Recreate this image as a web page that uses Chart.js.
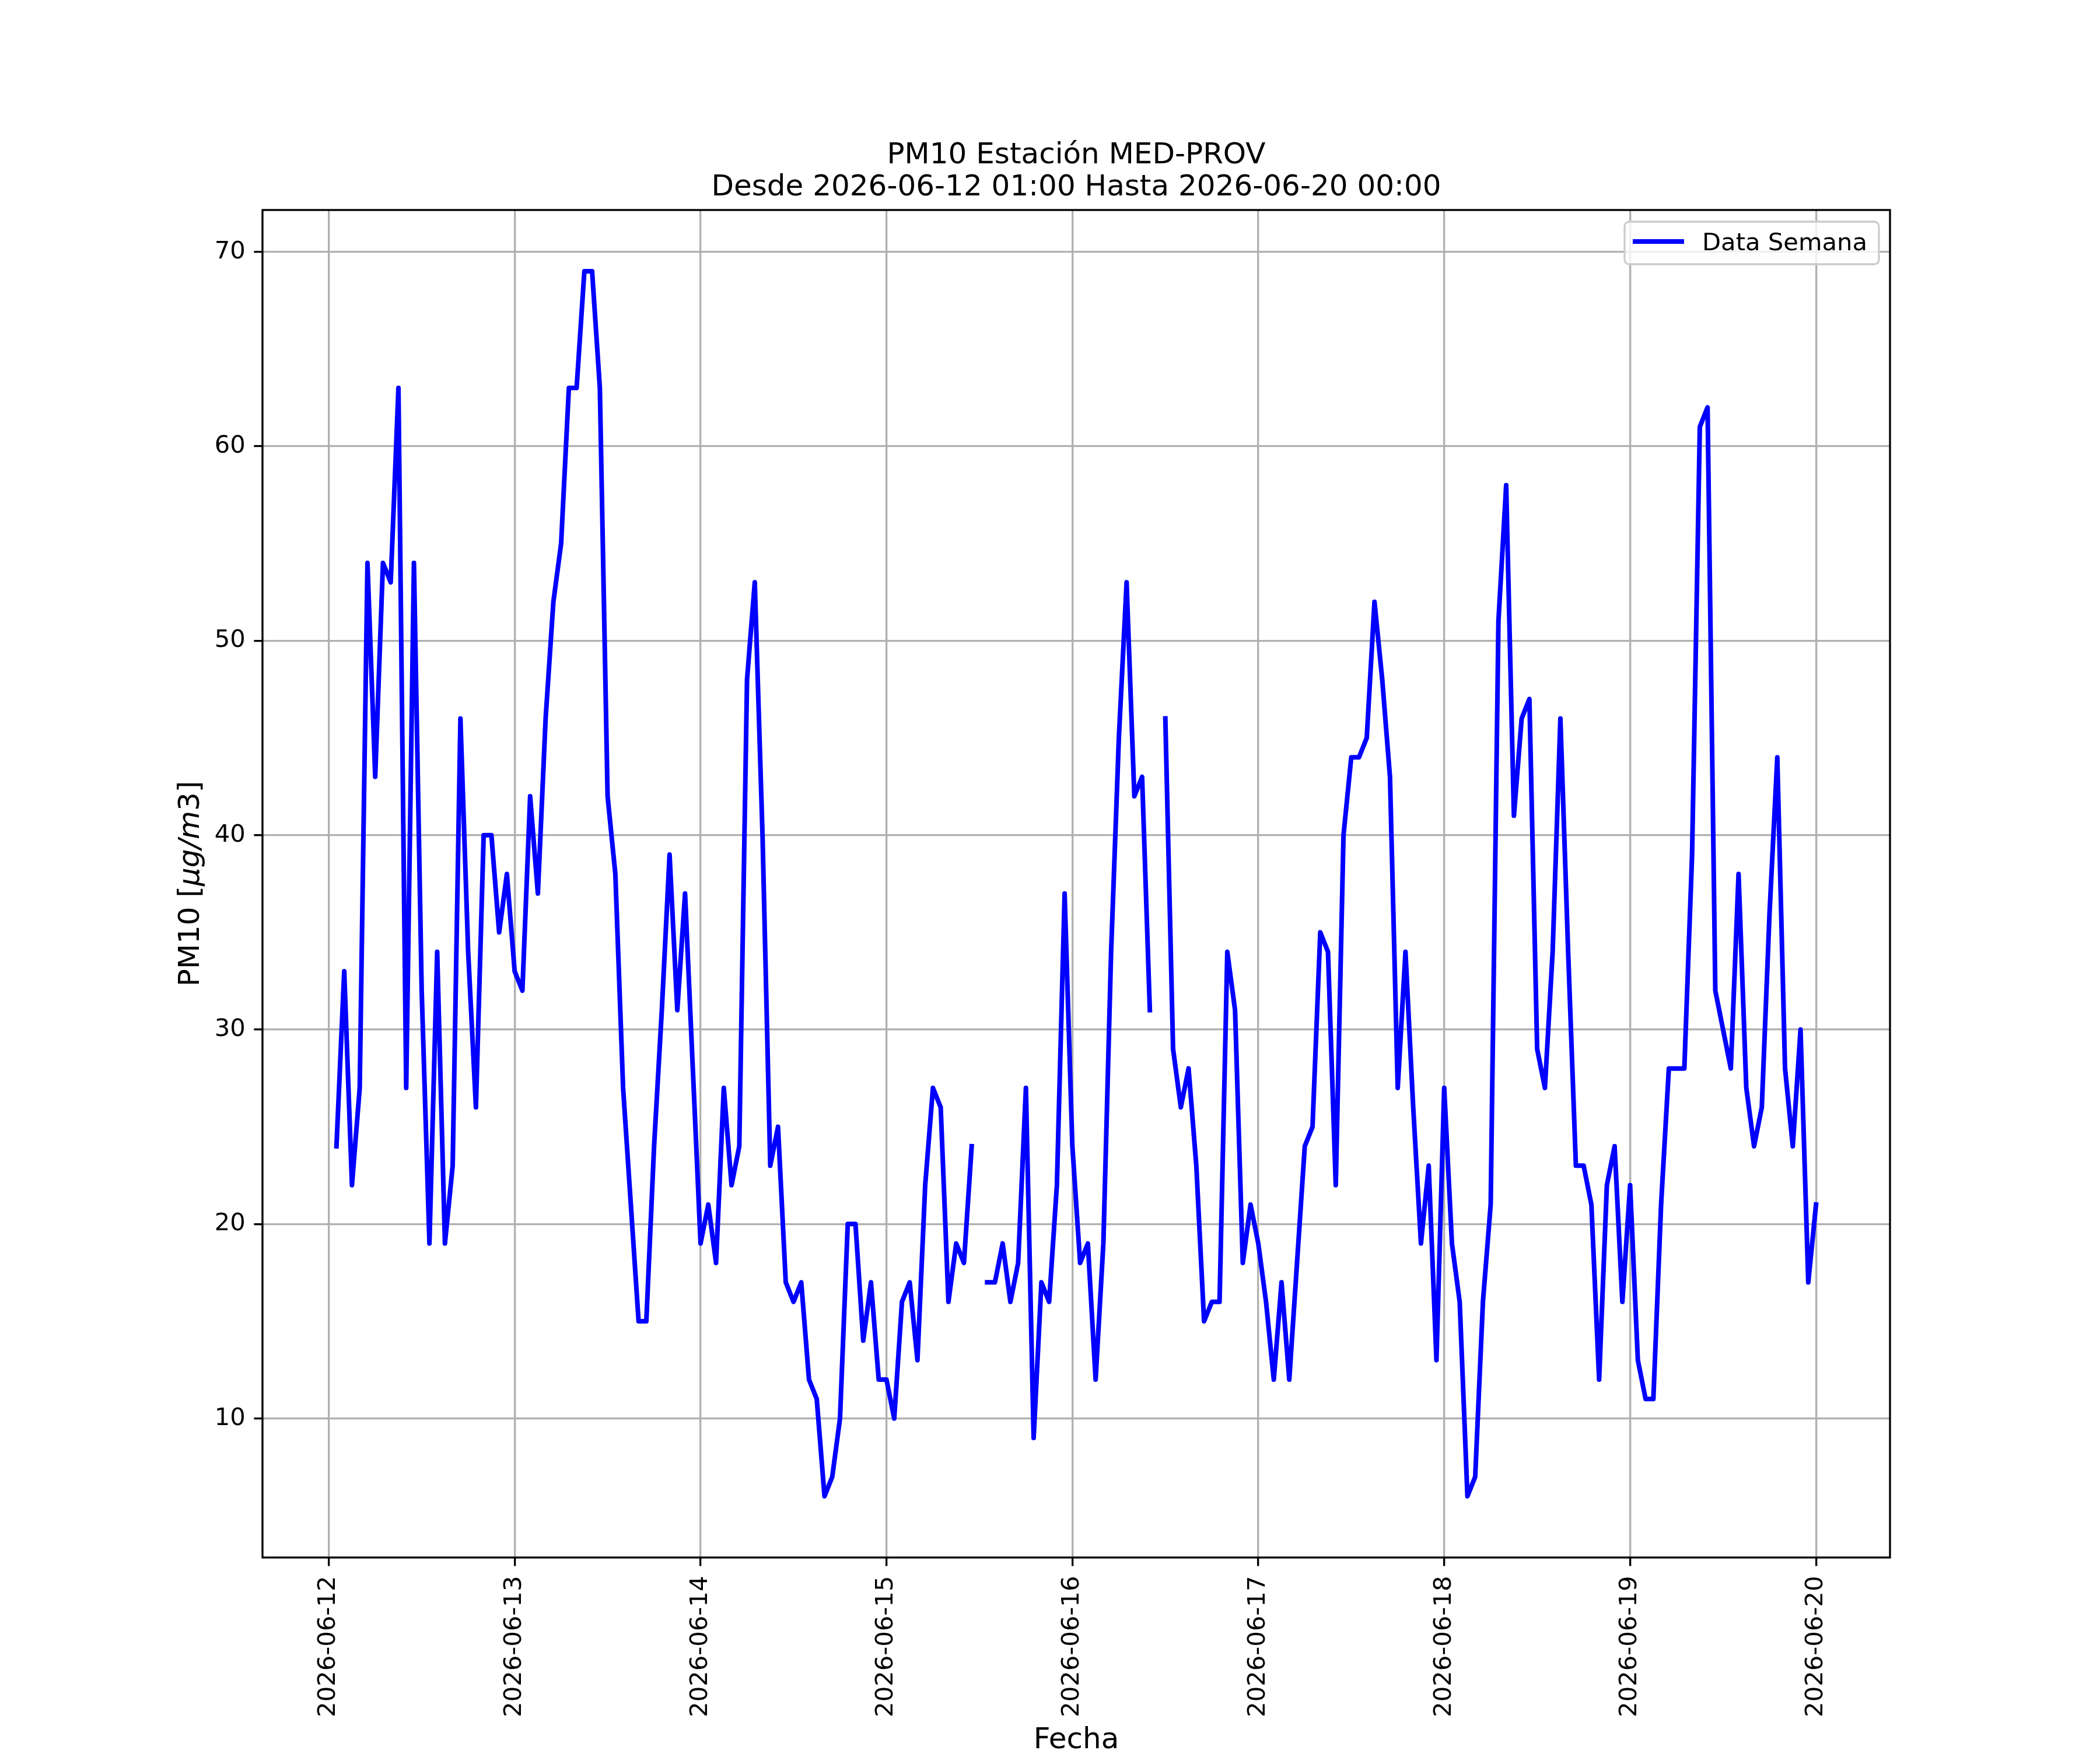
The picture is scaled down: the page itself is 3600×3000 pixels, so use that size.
<!DOCTYPE html>
<html>
<head>
<meta charset="utf-8">
<script src="https://cdn.jsdelivr.net/npm/chart.js@4.4.1/dist/chart.umd.min.js"></script>
<style>
  body { margin: 0; background: #fff; }
  canvas { display: block; }
</style>
</head>
<body>
<canvas id="myChart" width="3600" height="3000"></canvas>
<script>
// PM10 horario, cada lista va de 01:00 de ese dia a 00:00 del dia siguiente
var dia12 = [24, 33, 22, 27, 54, 43, 54, 53, 63, 27, 54, 32, 19, 34, 19, 23, 46, 34, 26, 40, 40, 35, 38, 33];
var dia13 = [32, 42, 37, 46, 52, 55, 63, 63, 69, 69, 63, 42, 38, 27, 21, 15, 15, 24, 31, 39, 31, 37, 28, 19];
var dia14 = [21, 18, 27, 22, 24, 48, 53, 40, 23, 25, 17, 16, 17, 12, 11, 6, 7, 10, 20, 20, 14, 17, 12, 12];
var dia15 = [10, 16, 17, 13, 22, 27, 26, 16, 19, 18, 24, null, 17, 17, 19, 16, 18, 27, 9, 17, 16, 22, 37, 24];
var dia16 = [18, 19, 12, 19, 34, 45, 53, 42, 43, 31, null, 46, 29, 26, 28, 23, 15, 16, 16, 34, 31, 18, 21, 19];
var dia17 = [16, 12, 17, 12, 18, 24, 25, 35, 34, 22, 40, 44, 44, 45, 52, 48, 43, 27, 34, 26, 19, 23, 13, 27];
var dia18 = [19, 16, 6, 7, 16, 21, 51, 58, 41, 46, 47, 29, 27, 34, 46, 34, 23, 23, 21, 12, 22, 24, 16, 22];
var dia19 = [13, 11, 11, 21, 28, 28, 28, 39, 61, 62, 32, 30, 28, 38, 27, 24, 26, 36, 44, 28, 24, 30, 17, 21];

var fechas = ['2026-06-12', '2026-06-13', '2026-06-14', '2026-06-15', '2026-06-16',
              '2026-06-17', '2026-06-18', '2026-06-19', '2026-06-20'];
var ticksY = [10, 20, 30, 40, 50, 60, 70];

var titulo = ['PM10 Estación MED-PROV', 'Desde 2026-06-12 01:00 Hasta 2026-06-20 00:00'];
var leyenda = 'Data Semana';

var semana = [].concat(dia12, dia13, dia14, dia15, dia16, dia17, dia18, dia19);
// x = horas desde 2026-06-12 00:00
var puntos = semana.map(function (v, i) { return {x: i + 1, y: v}; });

Chart.defaults.font.family = '"DejaVu Sans"';
Chart.defaults.color = '#000';

var decoracion = {
    id: 'decoracion',
    afterDatasetsDraw: function (chart) {
        var ctx = chart.ctx, a = chart.chartArea;
        ctx.save();
        // marco de los ejes
        ctx.strokeStyle = '#000';
        ctx.lineWidth = 3.33;
        ctx.strokeRect(a.left, a.top, a.right - a.left, a.bottom - a.top);

        // leyenda arriba a la derecha
        var w = 436, h = 73;
        var lx = a.right - 19 - w, ly = a.top + 20;
        ctx.beginPath();
        ctx.roundRect(lx, ly, w, h, 8);
        ctx.fillStyle = 'rgba(255,255,255,0.8)';
        ctx.fill();
        ctx.strokeStyle = '#cccccc';
        ctx.lineWidth = 3.33;
        ctx.stroke();
        ctx.beginPath();
        ctx.moveTo(lx + 14, ly + 34);
        ctx.lineTo(lx + 102, ly + 34);
        ctx.strokeStyle = '#0000ff';
        ctx.lineWidth = 8;
        ctx.stroke();
        ctx.fillStyle = '#000';
        ctx.font = '41.7px "DejaVu Sans"';
        ctx.textAlign = 'left';
        ctx.textBaseline = 'alphabetic';
        ctx.fillText(leyenda, lx + 133, ly + 49);
        ctx.restore();
    },
    afterDraw: function (chart) {
        var ctx = chart.ctx, a = chart.chartArea;
        ctx.save();
        ctx.fillStyle = '#000';
        ctx.textBaseline = 'alphabetic';
        ctx.textAlign = 'center';
        ctx.font = '50px "DejaVu Sans"';
        var cx = (a.left + a.right) / 2;
        ctx.fillText(titulo[0], cx, a.top - 80);
        ctx.fillText(titulo[1], cx, a.top - 25);

        // etiqueta eje y: PM10 [$\mu g/m3$]
        var partes = [
            ['PM10 [', '50px "DejaVu Sans"'],
            ['\u03bcg/m', 'italic 50px "DejaVu Sans"'],
            ['3', '50px "DejaVu Sans"'],
            [']', '50px "DejaVu Sans"']
        ];
        var total = 0;
        partes.forEach(function (p) { ctx.font = p[1]; total += ctx.measureText(p[0]).width; });
        ctx.translate(341, (a.top + a.bottom) / 2);
        ctx.rotate(-Math.PI / 2);
        ctx.textAlign = 'left';
        var px = -total / 2;
        partes.forEach(function (p) {
            ctx.font = p[1];
            ctx.fillText(p[0], px, 0);
            px += ctx.measureText(p[0]).width;
        });
        ctx.restore();
    }
};

var ctx = document.getElementById('myChart');
new Chart(ctx, {
    type: 'line',
    data: {
        datasets: [{
            label: leyenda,
            data: puntos,
            borderColor: '#0000ff',
            borderWidth: 8,
            borderJoinStyle: 'round',
            borderCapStyle: 'square',
            pointRadius: 0,
            tension: 0,
            spanGaps: false,
            fill: false
        }]
    },
    options: {
        responsive: false,
        devicePixelRatio: 1,
        animation: false,
        layout: { padding: { top: 360, right: 360, left: 0, bottom: 0 } },
        plugins: {
            legend: { display: false },
            title: { display: false },
            tooltip: { enabled: false }
        },
        scales: {
            x: {
                type: 'linear',
                min: -8.55,
                max: 201.55,
                afterBuildTicks: function (scale) {
                    scale.ticks = fechas.map(function (f, i) { return {value: i * 24}; });
                },
                afterFit: function (scale) { scale.height = 330; },
                ticks: {
                    autoSkip: false,
                    minRotation: 90,
                    maxRotation: 90,
                    padding: 17,
                    font: { size: 41.7 },
                    callback: function (v) { return fechas[Math.round(v / 24)]; }
                },
                grid: {
                    color: '#b0b0b0',
                    lineWidth: 3.33,
                    tickColor: '#000',
                    tickWidth: 3.33,
                    tickLength: 14.6
                },
                border: { display: false },
                title: {
                    display: true,
                    text: 'Fecha',
                    font: { size: 50, lineHeight: 0.6 },
                    padding: { top: 0, bottom: 1 }
                }
            },
            y: {
                min: 2.85,
                max: 72.15,
                afterBuildTicks: function (scale) {
                    scale.ticks = ticksY.map(function (v) { return {value: v}; });
                },
                afterFit: function (scale) { scale.width = 450; },
                ticks: {
                    padding: 14.6,
                    font: { size: 41.7 }
                },
                grid: {
                    color: '#b0b0b0',
                    lineWidth: 3.33,
                    tickColor: '#000',
                    tickWidth: 3.33,
                    tickLength: 14.6
                },
                border: { display: false }
            }
        }
    },
    plugins: [decoracion]
});
</script>
</body>
</html>
